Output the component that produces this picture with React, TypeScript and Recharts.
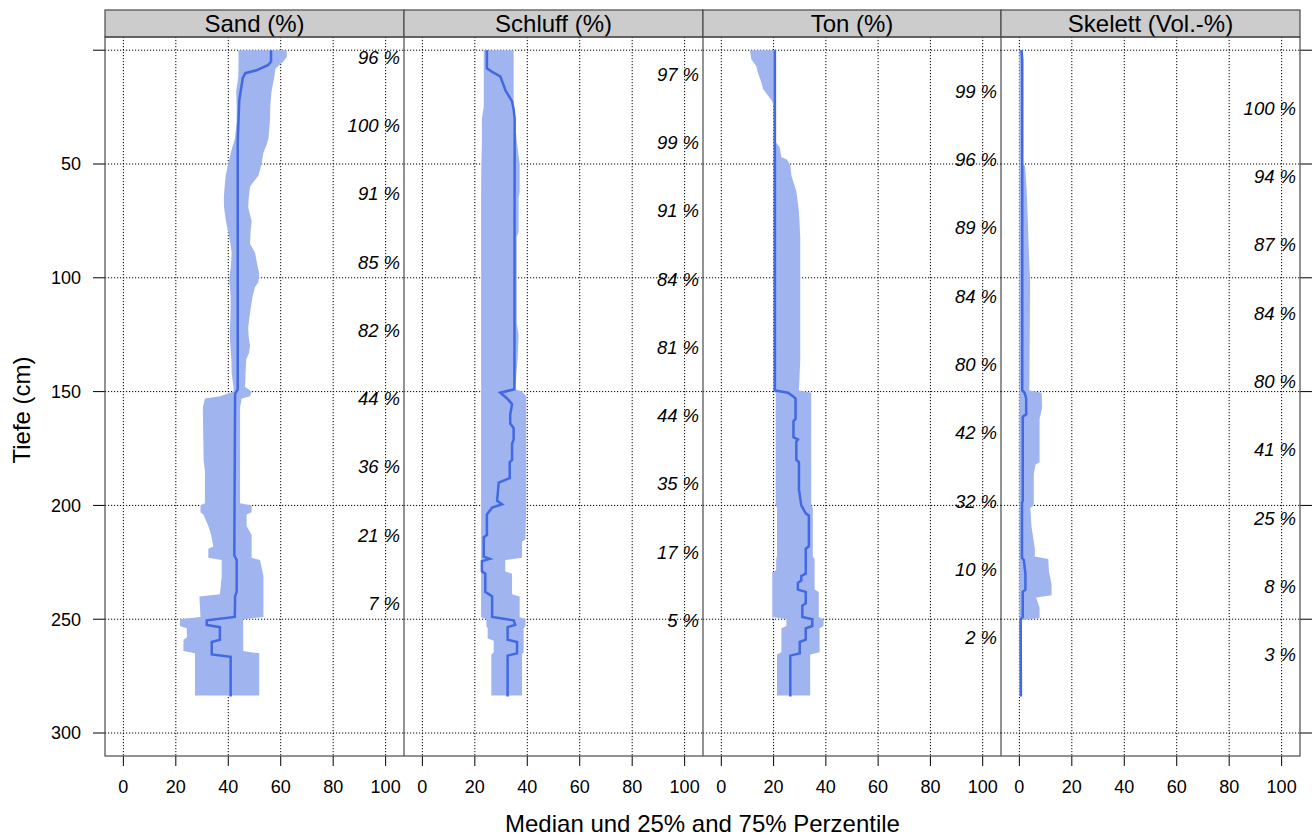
import React from 'react';
import { ComposedChart, Area, Line, XAxis, YAxis, CartesianGrid, ReferenceDot } from 'recharts';

const FONT = '"Liberation Sans", Arial, Helvetica, sans-serif';

const panelTitles = ['Sand (%)', 'Schluff (%)', 'Ton (%)', 'Skelett (Vol.-%)'];
const xTicks = [0, 20, 40, 60, 80, 100];
const yTicks = [0, 50, 100, 150, 200, 250, 300];
const xLabel = 'Median und 25% and 75% Perzentile';
const yLabel = 'Tiefe (cm)';

// ---- Sand ----
const sandBandDepth = [0, 3, 5, 8, 12, 18, 25, 31, 39, 42, 45, 50, 55, 58, 60, 65, 69, 75, 80, 85, 89, 95, 98, 102, 104, 108, 113, 118, 122, 126, 130, 133, 136, 142, 148, 150, 152, 153, 157, 180, 185, 199, 200, 203, 204, 209, 213, 218, 219, 223, 224, 231, 239, 240, 249, 250, 253, 254, 258, 259, 264, 265, 283.5];
const sandQ25 = [43.9, 43.9, 43.9, 43.9, 43.8, 43, 43.2, 43.2, 42.5, 41.7, 41, 40, 39, 38.8, 38.6, 38.3, 38.4, 39.1, 40, 40.8, 41.3, 41, 40.6, 40.4, 40.6, 40.9, 40.9, 40.8, 40.6, 40.6, 40.8, 41, 41.2, 41.3, 42, 42, 37, 31.1, 30.3, 30.6, 31.1, 31.1, 29.4, 29.4, 30.5, 32.4, 33.5, 34.3, 32.4, 32.4, 37.5, 37.5, 36.8, 29, 29.4, 21.6, 21.6, 24.2, 24.2, 22.9, 22.9, 27.3, 27.3];
const sandQ75 = [62.3, 62.3, 61, 58, 57.5, 56.5, 56, 55.9, 55.3, 54.5, 53.4, 52.7, 51.5, 49.5, 48.3, 47.8, 47.6, 48.9, 48.5, 48.3, 50.2, 51.2, 51.8, 51.5, 50.2, 49.3, 48.6, 48, 47.6, 47.8, 48.3, 47.9, 46.8, 46.6, 46.4, 48.9, 48.3, 45.1, 44.5, 44.5, 44.5, 44.5, 48.9, 48.9, 47, 47, 48.9, 48.9, 48.9, 48.9, 52.1, 53.4, 53.4, 53.4, 53.4, 45.7, 45.7, 45.7, 45.7, 45.7, 45.7, 51.8, 51.8];
const sandMedDepth = [0, 5, 6.6, 8.8, 10.1, 12.3, 22, 40, 149, 151, 222, 224, 238, 240, 249, 250.5, 252.5, 253.5, 259, 260, 265.5, 266.5, 284];
const sandMedian = [56.3, 56.3, 55.1, 50.8, 46.5, 45.5, 44.2, 43.6, 43.6, 42.6, 42.3, 43.2, 43.2, 42.6, 42.5, 31.8, 31.8, 36.8, 36.8, 33.7, 33.7, 40.9, 40.9];
const sandLabelDepth = [3, 33, 63, 93, 123, 153, 183, 213, 243];
const sandLabels = ['96 %', '100 %', '91 %', '85 %', '82 %', '44 %', '36 %', '21 %', '7 %'];

// ---- Schluff ----
const schluffBandDepth = [0, 25, 30, 41, 50, 62, 65, 80, 82, 120, 125, 136, 149, 150, 152, 200, 215, 216, 223, 224, 229, 230, 239, 240, 249, 250, 253, 254, 258.5, 259.5, 264.5, 265.5, 283.5];
const schluffQ25 = [23.4, 23.4, 22.7, 22.7, 22.5, 22.4, 22.4, 22.4, 22.4, 22.4, 22.4, 22.4, 22.4, 22.4, 22.4, 22.4, 22.4, 22.4, 22.4, 22.4, 22.4, 22.4, 22.4, 22.4, 22.4, 24.4, 24.4, 24.9, 24.9, 27.2, 27.2, 26.3, 26.3];
const schluffQ75 = [34.8, 34.8, 35.2, 36.1, 37.1, 37.1, 36.7, 36.7, 36, 36, 36.7, 36.3, 35.4, 38, 39.6, 39.6, 39.3, 38, 38, 31.6, 31.6, 34.2, 34.2, 37.1, 37.1, 39.3, 39.3, 38.6, 38.6, 38.6, 38.6, 38, 38];
const schluffMedDepth = [0, 8, 9.5, 11.5, 14.5, 17.5, 22.5, 26, 30, 149, 150.5, 153, 155.5, 160, 164, 166, 171, 173, 180, 181, 188, 190, 198, 199.5, 201, 204, 213, 214, 222.5, 223.5, 224.5, 229, 230, 238, 240, 249, 250.5, 252.5, 253.5, 259, 260, 265, 266, 284];
const schluffMedian = [24.6, 24.6, 26.6, 29.7, 30.7, 31.6, 34.2, 34.8, 35.2, 35.1, 29.7, 32.3, 34.2, 33.5, 33.5, 34.8, 34.8, 34.2, 34.2, 33.3, 33.3, 29.1, 28.5, 30.4, 26.6, 24.6, 24.6, 23.4, 23.4, 25.7, 22.7, 22.7, 24, 24, 26.6, 26.6, 34.8, 35.4, 32.5, 32.5, 36.1, 36.1, 32.5, 32.5];
const schluffLabelDepth = [10.5, 40.5, 70.5, 100.5, 130.5, 160.5, 190.5, 220.5, 250.5];
const schluffLabels = ['97 %', '99 %', '91 %', '84 %', '81 %', '44 %', '35 %', '17 %', '5 %'];

// ---- Ton ----
const tonBandDepth = [0, 4, 7, 10, 13, 17, 20, 22.5, 25, 40, 42.5, 47, 48, 50.5, 55, 62, 71, 82, 136, 149.5, 150.5, 200, 201, 222.5, 223.5, 228.5, 229.5, 237, 238, 249, 250, 253, 254, 264.5, 265.5, 283.5];
const tonQ25 = [10.9, 11.5, 13.4, 14, 15, 16, 17.9, 19.5, 20, 20, 20, 20, 20, 20, 20, 20, 20, 20, 20, 20, 20.8, 20.8, 21.3, 21.3, 21, 21, 19.5, 19.5, 19.5, 19.5, 24.9, 24.9, 23, 23, 21.3, 21.3];
const tonQ75 = [20.5, 20.5, 20.5, 20.5, 20.5, 20.5, 20.5, 20.5, 20.5, 20.5, 22.3, 23, 25.1, 26.4, 26.8, 28.7, 29.7, 30.2, 30.2, 29.7, 34.4, 34.4, 35, 35, 35.7, 35.7, 35.7, 35.7, 37.3, 37.3, 39.1, 39.1, 37.6, 37.6, 34, 34];
const tonMedDepth = [0, 149.5, 150.5, 152, 153, 162, 163, 170, 171, 172, 180, 181, 193, 200, 203.5, 204.5, 218, 219, 230, 231, 233, 234, 237, 238, 243, 244, 249, 250, 253, 254, 259, 260, 265, 266, 284];
const tonMedian = [20.5, 20.5, 25.5, 27.4, 28.4, 28.4, 27.6, 27.6, 29.3, 28.7, 28.7, 29.7, 29.7, 30.6, 32.3, 33.5, 33.5, 32.3, 32.3, 30.6, 30.6, 29.3, 29.3, 32.3, 32.3, 31, 31, 34.8, 34.8, 32.3, 32.3, 30, 30, 26.4, 26.4];
const tonLabelDepth = [18, 48, 78, 108, 138, 168, 198, 228, 258];
const tonLabels = ['99 %', '96 %', '89 %', '84 %', '80 %', '42 %', '32 %', '10 %', '2 %'];

// ---- Skelett ----
const skelettBandDepth = [0, 4, 50, 51, 62, 74, 88, 102, 149.5, 150.5, 157, 162, 181, 182, 186, 200, 201, 209, 219, 222.5, 223.5, 229, 235, 239.5, 240.5, 245, 249.5, 250.5, 283.5];
const skelettQ25 = [0, 0, 0, 0, 0, 0, 0, 0, 0, 0, 0, 0, 0, 0, 0, 0, 0, 0, 0, 0, 0, 0, 0, 0, 0, 0, 0, 0, 0];
const skelettQ75 = [1.1, 1.4, 1.4, 2.2, 2.8, 3.2, 3.6, 4.1, 3.8, 8.5, 8.7, 7.7, 7.7, 6.2, 5.5, 5.5, 4.2, 4.6, 5.9, 5.9, 11, 11.3, 12.3, 12.3, 6.4, 7.7, 7.7, 0.8, 0.8];
const skelettMedDepth = [0, 4, 149.5, 150.5, 153, 160, 161, 198, 199, 223, 224, 230, 237, 238, 249, 250, 284];
const skelettMedian = [0.8, 1.1, 1.1, 2.0, 2.6, 2.6, 1.3, 1.3, 1.0, 1.0, 1.7, 2.3, 2.3, 1.3, 1.3, 0.5, 0.6];
const skelettLabelDepth = [25.5, 55.5, 85.5, 115.5, 145.5, 175.5, 205.5, 235.5, 265.5];
const skelettLabels = ['100 %', '94 %', '87 %', '84 %', '80 %', '41 %', '25 %', '8 %', '3 %'];

const BAND = '#A0B4F0';
const LINE = '#4169E1';
const BORDER = '#4a4a4a';

const X_DOMAIN: [number, number] = [-7, 107];
const Y_DOMAIN: [number, number] = [-5.8, 310.1];

const PLOT_TOP = 37;
const PLOT_BOTTOM = 756;
const STRIP_TOP = 10;
const edges = [105, 404, 703, 1001, 1300];

function makeBand(depth: number[], lo: number[], hi: number[]) {
  return depth.map((d, i) => ({ depth: d, lo: lo[i], hi: hi[i] }));
}
function makeMed(depth: number[], med: number[]) {
  return depth.map((d, i) => ({ depth: d, med: med[i] }));
}

const panels = [
  { band: makeBand(sandBandDepth, sandQ25, sandQ75), med: makeMed(sandMedDepth, sandMedian), labDepth: sandLabelDepth, labs: sandLabels },
  { band: makeBand(schluffBandDepth, schluffQ25, schluffQ75), med: makeMed(schluffMedDepth, schluffMedian), labDepth: schluffLabelDepth, labs: schluffLabels },
  { band: makeBand(tonBandDepth, tonQ25, tonQ75), med: makeMed(tonMedDepth, tonMedian), labDepth: tonLabelDepth, labs: tonLabels },
  { band: makeBand(skelettBandDepth, skelettQ25, skelettQ75), med: makeMed(skelettMedDepth, skelettMedian), labDepth: skelettLabelDepth, labs: skelettLabels },
];

const tickStyle = { fontSize: 18, fill: '#000', fontFamily: FONT };

function Panel({ idx }: { idx: number }) {
  const p = panels[idx];
  const isFirst = idx === 0;
  const isLast = idx === panels.length - 1;
  const plotLeft = edges[idx];
  const plotW = edges[idx + 1] - edges[idx];
  const leftW = isFirst ? 105 : 0;
  const rightW = isLast ? 15 : 0;
  const chartLeft = plotLeft - leftW;
  const width = plotW + leftW + rightW;
  return (
    <div style={{ position: 'absolute', left: chartLeft, top: 0 }}>
      <ComposedChart
        width={width}
        height={838}
        layout="vertical"
        margin={{ top: PLOT_TOP, right: 0, bottom: 838 - PLOT_BOTTOM - 50, left: 0 }}
        style={{ fontFamily: FONT }}
      >
        <CartesianGrid yAxisId="d" stroke="#000" strokeDasharray="1.2 1.8" strokeWidth={1} horizontalValues={yTicks} verticalValues={xTicks} />
        <XAxis
          type="number"
          domain={X_DOMAIN}
          ticks={xTicks}
          allowDataOverflow
          height={50}
          axisLine={false}
          tickSize={10}
          tickMargin={14}
          tickLine={{ stroke: '#000' }}
          tick={tickStyle}
          interval={0}
        />
        <YAxis
          type="number"
          dataKey="depth"
          yAxisId="d"
          domain={Y_DOMAIN}
          ticks={yTicks}
          allowDataOverflow
          hide={!isFirst}
          width={105}
          axisLine={false}
          tickSize={12}
          tickMargin={12}
          tickLine={{ stroke: '#000' }}
          tick={tickStyle}
          interval={0}
          tickFormatter={(v: number) => (v === 0 ? '' : String(v))}
        />
        {isLast && (
          <YAxis
            type="number"
            dataKey="depth"
            yAxisId="r"
            orientation="right"
            domain={Y_DOMAIN}
            ticks={yTicks}
            allowDataOverflow
            width={15}
            axisLine={false}
            tickSize={12}
            tickLine={{ stroke: '#000' }}
            tick={tickStyle}
            interval={0}
            tickFormatter={() => ''}
          />
        )}
        <Area
          yAxisId="d"
          data={p.band}
          dataKey={(d: any) => [d.lo, d.hi]}
          type="linear"
          fill={BAND}
          fillOpacity={1}
          stroke="none"
          isAnimationActive={false}
          dot={false}
          activeDot={false}
        />
        <Line
          yAxisId="d"
          data={p.med}
          dataKey="med"
          type="linear"
          stroke={LINE}
          strokeWidth={2.5}
          dot={false}
          activeDot={false}
          isAnimationActive={false}
        />
        {p.labDepth.map((d, i) => (
          <ReferenceDot
            key={i}
            yAxisId="d"
            x={105.5}
            y={d}
            r={1}
            ifOverflow="visible"
            shape={(sp: any) => (
              <text
                x={sp.cx}
                y={sp.cy}
                dy="0.36em"
                textAnchor="end"
                fontStyle="italic"
                fontSize={18.5}
                fontFamily={FONT}
                fill="#000"
              >
                {p.labs[i]}
              </text>
            )}
          />
        ))}
      </ComposedChart>
    </div>
  );
}

export default function App() {
  return (
    <div style={{ position: 'absolute', left: 0, top: 0, width: 1316, height: 838, background: '#fff', fontFamily: FONT }}>
      {panels.map((_, i) => (
        <Panel key={i} idx={i} />
      ))}
      <svg width={1316} height={838} style={{ position: 'absolute', left: 0, top: 0, pointerEvents: 'none' }}>
        {panelTitles.map((t, i) => (
          <g key={t}>
            <rect x={edges[i]} y={STRIP_TOP} width={edges[i + 1] - edges[i]} height={PLOT_TOP - STRIP_TOP} fill="#CCCCCC" stroke={BORDER} strokeWidth={1.2} />
            <text x={(edges[i] + edges[i + 1]) / 2} y={(STRIP_TOP + PLOT_TOP) / 2} dy="0.36em" textAnchor="middle" fontSize={24} fontFamily={FONT} fill="#000">
              {t}
            </text>
          </g>
        ))}
        <rect x={edges[0]} y={PLOT_TOP} width={edges[4] - edges[0]} height={PLOT_BOTTOM - PLOT_TOP} fill="none" stroke={BORDER} strokeWidth={1.2} />
        {edges.slice(1, 4).map((x) => (
          <line key={x} x1={x} x2={x} y1={PLOT_TOP} y2={PLOT_BOTTOM} stroke={BORDER} strokeWidth={1.2} />
        ))}
        <text x={(edges[0] + edges[4]) / 2} y={823} dy="0.36em" textAnchor="middle" fontSize={24} fontFamily={FONT} fill="#000">
          {xLabel}
        </text>
        <text x={21} y={410} dy="0.36em" textAnchor="middle" fontSize={24} fontFamily={FONT} fill="#000" transform="rotate(-90 21 410)">
          {yLabel}
        </text>
      </svg>
    </div>
  );
}
